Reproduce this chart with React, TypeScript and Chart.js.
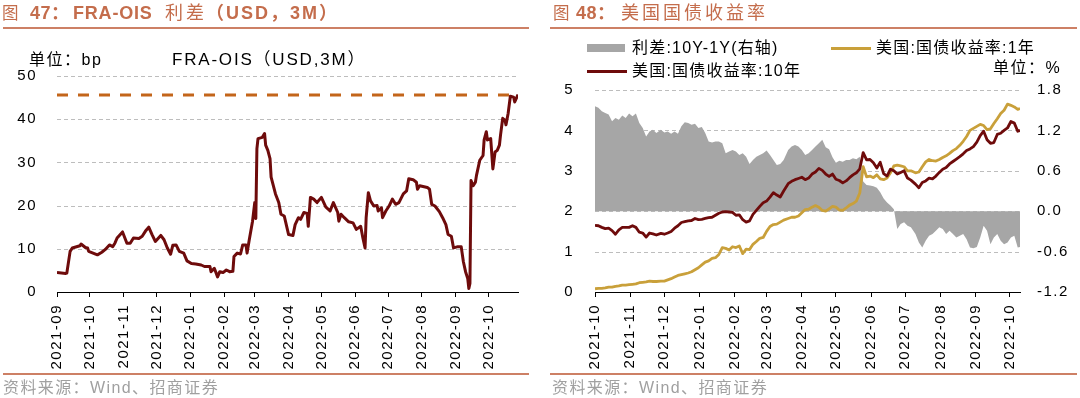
import React, { useEffect, useRef } from "react";
import { Chart, registerables } from "chart.js";

Chart.register(...registerables);

// ---------- Figure 47: FRA-OIS spread (USD, 3M), bp ----------
const fraDates = [
  "2021-09-01", "2021-09-09", "2021-09-10", "2021-09-13", "2021-09-15", "2021-09-22", "2021-09-23", "2021-09-27", "2021-09-29", "2021-09-30",
  "2021-10-04", "2021-10-08", "2021-10-12", "2021-10-15", "2021-10-19", "2021-10-22", "2021-10-24", "2021-10-26", "2021-10-31",
  "2021-11-04", "2021-11-07", "2021-11-10", "2021-11-15", "2021-11-18", "2021-11-21", "2021-11-24", "2021-11-27", "2021-11-30",
  "2021-12-05", "2021-12-08", "2021-12-11", "2021-12-14", "2021-12-16", "2021-12-19", "2021-12-22", "2021-12-26", "2021-12-29",
  "2022-01-02", "2022-01-06", "2022-01-11", "2022-01-14", "2022-01-19", "2022-01-20", "2022-01-23", "2022-01-26", "2022-01-28", "2022-01-31",
  "2022-02-03", "2022-02-06", "2022-02-09", "2022-02-10", "2022-02-13", "2022-02-16", "2022-02-18", "2022-02-21", "2022-02-22", "2022-02-24", "2022-02-27",
  "2022-03-01", "2022-03-02", "2022-03-03", "2022-03-04", "2022-03-08", "2022-03-10", "2022-03-11", "2022-03-13", "2022-03-15", "2022-03-16", "2022-03-20", "2022-03-23", "2022-03-25", "2022-03-28",
  "2022-04-01", "2022-04-05", "2022-04-07", "2022-04-10", "2022-04-12", "2022-04-15", "2022-04-18", "2022-04-19", "2022-04-21", "2022-04-24", "2022-04-27",
  "2022-05-01", "2022-05-05", "2022-05-09", "2022-05-12", "2022-05-16", "2022-05-17", "2022-05-19", "2022-05-22", "2022-05-26", "2022-05-30",
  "2022-06-02", "2022-06-06", "2022-06-08", "2022-06-10", "2022-06-11", "2022-06-13", "2022-06-15", "2022-06-18", "2022-06-21", "2022-06-22", "2022-06-25", "2022-06-26", "2022-06-29",
  "2022-07-02", "2022-07-05", "2022-07-08", "2022-07-11", "2022-07-15", "2022-07-18", "2022-07-20", "2022-07-24", "2022-07-27", "2022-07-28", "2022-07-30",
  "2022-08-06", "2022-08-08", "2022-08-10", "2022-08-13", "2022-08-17", "2022-08-20", "2022-08-23", "2022-08-25", "2022-08-28", "2022-08-30",
  "2022-09-03", "2022-09-06", "2022-09-08", "2022-09-10", "2022-09-12", "2022-09-13", "2022-09-14", "2022-09-15", "2022-09-17", "2022-09-19", "2022-09-20", "2022-09-23", "2022-09-26", "2022-09-27", "2022-09-29", "2022-09-30",
  "2022-10-03", "2022-10-05", "2022-10-07", "2022-10-09", "2022-10-11", "2022-10-12", "2022-10-14", "2022-10-16", "2022-10-17", "2022-10-19", "2022-10-21", "2022-10-24", "2022-10-25", "2022-10-28",
];
const fraValues = [
  4.5, 4.3, 4.4, 9.4, 10.2, 10.7, 11.1, 10.3, 10.2, 9.4,
  9.0, 8.6, 9.2, 9.8, 10.9, 10.5, 11.3, 12.5, 13.9,
  11.3, 11.3, 12.5, 12.4, 12.9, 14.1, 15.0, 13.3, 11.7,
  13.1, 12.1, 10.2, 8.75, 10.8, 10.9, 9.4, 9.0, 7.2,
  6.6, 6.5, 6.25, 5.9, 5.9, 4.7, 5.5, 3.5, 4.7, 4.5,
  5.1, 4.7, 4.8, 8.2, 9.0, 8.8, 10.9, 10.9, 9.0, 12.1, 16.4,
  20.7, 17.0, 33.2, 35.5, 35.8, 36.7, 34.0, 32.8, 30.9, 26.6, 22.7, 20.7, 18.0, 17.6,
  13.3, 13.1, 15.6, 17.2, 16.8, 18.4, 18.2, 15.2, 21.9, 21.5, 20.7,
  21.9, 19.7, 18.75, 20.7, 18.4, 16.4, 18.0, 17.2, 16.25, 16.0,
  14.5, 15.2, 12.5, 10.2, 17.2, 23.0, 21.1, 19.9, 20.0, 18.75, 19.5, 17.2, 18.75,
  19.9, 21.5, 20.3, 20.7, 22.7, 23.4, 26.2, 26.0, 25.4, 23.8, 24.6,
  24.2, 23.8, 20.3, 19.9, 18.6, 17.2, 15.6, 13.3, 12.9, 10.2,
  10.5, 10.5, 7.0, 4.7, 3.1, 0.8, 2.0, 25.8, 24.6, 25.4, 27.0, 30.5, 31.6, 35.2, 37.1, 35.2,
  35.5, 28.5, 32.4, 32.8, 34.0, 36.3, 40.2, 39.8, 38.7, 41.4, 45.3, 45.1, 44.0, 45.7,
];
const fraPeakLevel = 45.6;
const fraTickLabels = [
  "2021-09", "2021-10", "2021-11", "2021-12", "2022-01", "2022-02", "2022-03",
  "2022-04", "2022-05", "2022-06", "2022-07", "2022-08", "2022-09", "2022-10",
];
const fraYMin = 0;
const fraYMax = 50;
const fraYStep = 10;

// ---------- Figure 48: US Treasury yields, % ----------
const ustDates = [
  "2021-10-01", "2021-10-04", "2021-10-07", "2021-10-10", "2021-10-13", "2021-10-16", "2021-10-19", "2021-10-22", "2021-10-25", "2021-10-28",
  "2021-10-31", "2021-11-03", "2021-11-06", "2021-11-09", "2021-11-12", "2021-11-15", "2021-11-18", "2021-11-21", "2021-11-24", "2021-11-28",
  "2021-12-01", "2021-12-04", "2021-12-07", "2021-12-10", "2021-12-13", "2021-12-16", "2021-12-19", "2021-12-22", "2021-12-25", "2021-12-28",
  "2021-12-31", "2022-01-03", "2022-01-06", "2022-01-09", "2022-01-12", "2022-01-15", "2022-01-18", "2022-01-21", "2022-01-24", "2022-01-27",
  "2022-01-30", "2022-02-02", "2022-02-05", "2022-02-08", "2022-02-11", "2022-02-14", "2022-02-17", "2022-02-20", "2022-02-23", "2022-02-26",
  "2022-03-01", "2022-03-04", "2022-03-07", "2022-03-10", "2022-03-13", "2022-03-16", "2022-03-20", "2022-03-23", "2022-03-26", "2022-03-29",
  "2022-04-01", "2022-04-04", "2022-04-07", "2022-04-10", "2022-04-13", "2022-04-16", "2022-04-19", "2022-04-22", "2022-04-25", "2022-04-28",
  "2022-05-01", "2022-05-04", "2022-05-07", "2022-05-10", "2022-05-13", "2022-05-16", "2022-05-19", "2022-05-22", "2022-05-25", "2022-05-28",
  "2022-05-31", "2022-06-03", "2022-06-06", "2022-06-09", "2022-06-12", "2022-06-15", "2022-06-18", "2022-06-21", "2022-06-24", "2022-06-27",
  "2022-06-30", "2022-07-03", "2022-07-06", "2022-07-10", "2022-07-13", "2022-07-16", "2022-07-19", "2022-07-22", "2022-07-25", "2022-07-28",
  "2022-07-31", "2022-08-03", "2022-08-06", "2022-08-09", "2022-08-12", "2022-08-15", "2022-08-18", "2022-08-21", "2022-08-24", "2022-08-27",
  "2022-08-30", "2022-09-02", "2022-09-05", "2022-09-08", "2022-09-11", "2022-09-14", "2022-09-17", "2022-09-20", "2022-09-23", "2022-09-26",
  "2022-09-29", "2022-10-02", "2022-10-05", "2022-10-08", "2022-10-10",
];
const ust10Y = [
  1.65, 1.64, 1.60, 1.57, 1.58, 1.52, 1.43, 1.54, 1.60, 1.60,
  1.60, 1.64, 1.60, 1.48, 1.46, 1.36, 1.46, 1.44, 1.41, 1.45,
  1.43, 1.46, 1.50, 1.58, 1.64, 1.72, 1.74, 1.76, 1.77, 1.82,
  1.79, 1.80, 1.82, 1.84, 1.85, 1.90, 1.95, 1.98, 1.99, 1.98,
  1.97, 1.90, 1.91, 1.79, 1.73, 1.76, 1.92, 2.02, 2.12, 2.21,
  2.25, 2.35, 2.46, 2.40, 2.35, 2.50, 2.68, 2.74, 2.78, 2.81,
  2.84, 2.78, 2.82, 2.92, 2.97, 3.06, 3.01, 2.92, 2.86, 2.92,
  2.79, 2.76, 2.70, 2.75, 2.83, 2.90, 2.95, 3.05, 3.45, 3.27,
  3.28, 3.20, 3.07, 3.21, 2.93, 2.87, 3.04, 3.00, 2.92, 2.96,
  3.00, 2.82, 2.77, 2.67, 2.58, 2.71, 2.75, 2.82, 2.80, 2.87,
  2.96, 3.04, 3.08, 3.17, 3.23, 3.29, 3.35, 3.42, 3.50, 3.54,
  3.60, 3.71, 3.87, 3.98, 3.77, 3.68, 3.70, 3.90, 3.93, 4.00,
  4.06, 4.22, 4.18, 3.98, 4.00,
];
const ust1Y = [
  0.08, 0.09, 0.09, 0.10, 0.12, 0.12, 0.14, 0.15, 0.17, 0.17,
  0.18, 0.19, 0.20, 0.23, 0.24, 0.25, 0.27, 0.26, 0.26, 0.27,
  0.27, 0.30, 0.33, 0.37, 0.41, 0.43, 0.45, 0.47, 0.50, 0.55,
  0.60, 0.67, 0.74, 0.77, 0.83, 0.85, 0.93, 1.10, 1.08, 1.04,
  1.12, 1.10, 1.14, 0.95, 1.06, 1.05, 1.18, 1.25, 1.33, 1.35,
  1.50, 1.62, 1.67, 1.68, 1.73, 1.78, 1.82, 1.85, 1.85, 1.88,
  1.96, 2.04, 2.05, 2.10, 2.14, 2.10, 2.02, 2.00, 2.06, 2.12,
  2.10, 2.03, 2.02, 2.08, 2.15, 2.19, 2.25, 2.45, 3.10, 2.85,
  2.87, 2.83, 2.90, 2.80, 2.78, 2.82, 2.95, 3.12, 3.14, 3.12,
  3.10, 3.00, 3.00, 2.95, 2.97, 3.10, 3.22, 3.28, 3.25, 3.24,
  3.28, 3.33, 3.37, 3.43, 3.50, 3.55, 3.63, 3.73, 3.85, 4.00,
  4.05, 4.10, 4.15, 4.12, 4.02, 4.04, 4.17, 4.29, 4.42, 4.50,
  4.65, 4.62, 4.58, 4.52, 4.54,
];
const ustSpread = [
  1.56, 1.535, 1.485, 1.46, 1.435, 1.335, 1.385, 1.36, 1.42, 1.385,
  1.45, 1.41, 1.45, 1.31, 1.235, 1.11, 1.185, 1.21, 1.16, 1.21,
  1.17, 1.185, 1.15, 1.185, 1.15, 1.26, 1.32, 1.31, 1.285, 1.30,
  1.235, 1.25, 1.16, 1.035, 1.02, 1.035, 1.035, 1.01, 0.86, 0.885,
  0.91, 0.885, 0.835, 0.86, 0.81, 0.70, 0.76, 0.81, 0.835, 0.86,
  0.90, 0.835, 0.76, 0.685, 0.70, 0.76, 0.91, 0.96, 0.985, 0.96,
  0.91, 0.835, 0.86, 0.91, 0.96, 1.01, 1.06, 0.95, 0.92, 0.80,
  0.72, 0.75, 0.735, 0.76, 0.76, 0.785, 0.77, 0.81, 0.44, 0.39,
  0.38, 0.37, 0.35, 0.28, 0.19, 0.13, 0.085, 0.03, -0.265, -0.19,
  -0.165, -0.215, -0.24, -0.34, -0.465, -0.54, -0.44, -0.365, -0.34, -0.29,
  -0.24, -0.265, -0.34, -0.29, -0.34, -0.39, -0.365, -0.34, -0.415, -0.54,
  -0.55, -0.53, -0.39, -0.215, -0.29, -0.49, -0.39, -0.34, -0.44, -0.49,
  -0.465, -0.39, -0.365, -0.54, -0.53,
];
const ustTickLabels = [
  "2021-10", "2021-11", "2021-12", "2022-01", "2022-02", "2022-03", "2022-04",
  "2022-05", "2022-06", "2022-07", "2022-08", "2022-09", "2022-10",
];
const ustYMin = 0;
const ustYMax = 5;
const ustYStep = 1;
const ustY2Min = -1.2;
const ustY2Max = 1.8;
const ustY2Step = 0.6;

// ---------- styling ----------
const FONT = '"Liberation Sans", Arial, "Noto Sans CJK SC", sans-serif';
const TITLE_COLOR = "#C46D4C";
const RULE_COLOR = "#CD8065";
const DARK_RED = "#6E0B0B";
const GOLD = "#C9A03A";
const GREY_AREA = "#A6A6A6";
const PEAK_ORANGE = "#C3651A";
const GRID = "#BDBDBD";

const DAY = 86400000;
const dayOffset = (d: string, base: string) =>
  Math.round((Date.parse(d) - Date.parse(base)) / DAY);

Chart.defaults.font.family = FONT;

const spacingPlugin = {
  id: "letterSpacing",
  beforeLayout(chart: any) {
    chart.ctx.letterSpacing = "1.5px";
  },
  beforeDraw(chart: any) {
    chart.ctx.letterSpacing = "1.5px";
  },
};

// dashed horizontal gridlines at the left y-axis ticks (above zero), under the data
const dashedGridPlugin = {
  id: "dashedGrid",
  beforeDatasetsDraw(chart: any) {
    const { ctx, chartArea } = chart;
    const ys = chart.scales.y;
    ctx.save();
    ctx.strokeStyle = GRID;
    ctx.lineWidth = 1;
    ctx.setLineDash([4, 3]);
    ys.ticks.forEach((t: any) => {
      if (t.value <= ys.min) return;
      const py = Math.round(ys.getPixelForValue(t.value)) + 0.5;
      ctx.beginPath();
      ctx.moveTo(chartArea.left, py);
      ctx.lineTo(chartArea.right, py);
      ctx.stroke();
    });
    ctx.restore();
  },
};

function makeX(base: string, lastDate: string, labels: string[]) {
  const tickVals = labels.map((l) => dayOffset(l + "-01", base));
  return {
    type: "linear",
    min: 0,
    max: dayOffset(lastDate, base),
    afterBuildTicks: (s: any) => {
      s.ticks = tickVals.map((v) => ({ value: v }));
    },
    afterFit: (s: any) => {
      s.height = 106;
    },
    ticks: {
      autoSkip: false,
      maxRotation: 90,
      minRotation: 90,
      padding: 7,
      color: "#000",
      font: { size: 15 },
      callback: (_v: any, i: number) => labels[i],
    },
    grid: {
      display: true,
      drawOnChartArea: false,
      drawTicks: true,
      tickLength: 5,
      color: "#000",
      lineWidth: 1,
    },
    border: { display: true, color: "#000", width: 1 },
  };
}

function FraChart() {
  const ref = useRef<HTMLCanvasElement>(null);
  useEffect(() => {
    const base = fraDates[0];
    const last = fraDates[fraDates.length - 1];
    const pts = fraDates.map((d, i) => ({ x: dayOffset(d, base), y: fraValues[i] }));
    const peak = [
      { x: dayOffset(base, base), y: fraPeakLevel },
      { x: dayOffset(last, base), y: fraPeakLevel },
    ];
    const chart = new Chart(ref.current as HTMLCanvasElement, {
      type: "line",
      data: {
        datasets: [
          {
            data: pts,
            borderColor: DARK_RED,
            borderWidth: 3,
            pointRadius: 0,
            borderJoinStyle: "round",
            order: 0,
          },
          {
            data: peak,
            borderColor: PEAK_ORANGE,
            borderWidth: 3,
            borderDash: [11, 10],
            pointRadius: 0,
            order: 1,
          },
        ],
      },
      options: {
        responsive: false,
        animation: false,
        events: [],
        layout: { padding: { top: 76, right: 22, bottom: 0, left: 0 } },
        plugins: { legend: { display: false }, tooltip: { enabled: false } },
        scales: {
          x: makeX(base, last, fraTickLabels),
          y: {
            min: fraYMin,
            max: fraYMax,
            afterFit: (s: any) => {
              s.width = 57;
            },
            ticks: { stepSize: fraYStep, padding: 20, color: "#000", font: { size: 15 } },
            grid: { display: false, drawTicks: false },
            border: { display: false },
          },
        },
      } as any,
      plugins: [spacingPlugin, dashedGridPlugin],
    } as any);
    return () => chart.destroy();
  }, []);
  return (
    <canvas
      ref={ref}
      width={540}
      height={398}
      style={{ position: "absolute", left: 0, top: 0 }}
    />
  );
}

function UstChart() {
  const ref = useRef<HTMLCanvasElement>(null);
  useEffect(() => {
    const base = ustDates[0];
    const last = ustDates[ustDates.length - 1];
    const xs = ustDates.map((d) => dayOffset(d, base));
    const chart = new Chart(ref.current as HTMLCanvasElement, {
      type: "line",
      data: {
        datasets: [
          {
            label: "美国:国债收益率:10年",
            data: xs.map((x, i) => ({ x, y: ust10Y[i] })),
            borderColor: DARK_RED,
            borderWidth: 2.8,
            pointRadius: 0,
            borderJoinStyle: "round",
            yAxisID: "y",
            order: 0,
          },
          {
            label: "美国:国债收益率:1年",
            data: xs.map((x, i) => ({ x, y: ust1Y[i] })),
            borderColor: GOLD,
            borderWidth: 2.8,
            pointRadius: 0,
            borderJoinStyle: "round",
            yAxisID: "y",
            order: 1,
          },
          {
            label: "利差:10Y-1Y(右轴)",
            data: xs.map((x, i) => ({ x, y: ustSpread[i] })),
            borderColor: "rgba(0,0,0,0)",
            borderWidth: 0,
            backgroundColor: GREY_AREA,
            fill: "origin",
            pointRadius: 0,
            yAxisID: "y2",
            order: 2,
          },
        ],
      },
      options: {
        responsive: false,
        animation: false,
        events: [],
        layout: { padding: { top: 90, right: 0, bottom: 0, left: 0 } },
        plugins: { legend: { display: false }, tooltip: { enabled: false } },
        scales: {
          x: makeX(base, last, ustTickLabels),
          y: {
            position: "left",
            min: ustYMin,
            max: ustYMax,
            afterFit: (s: any) => {
              s.width = 55;
            },
            ticks: { stepSize: ustYStep, padding: 21, color: "#000", font: { size: 15 } },
            grid: { display: false, drawTicks: false },
            border: { display: false },
          },
          y2: {
            position: "right",
            min: ustY2Min,
            max: ustY2Max,
            afterFit: (s: any) => {
              s.width = 60;
            },
            ticks: {
              stepSize: ustY2Step,
              padding: 17,
              color: "#000",
              font: { size: 15 },
              callback: (v: any) => (Math.abs(v) < 1e-9 ? "0.0" : Number(v).toFixed(1)),
            },
            grid: { display: false, drawTicks: false },
            border: { display: false },
          },
        },
      } as any,
      plugins: [spacingPlugin, dashedGridPlugin],
    } as any);
    return () => chart.destroy();
  }, []);
  return (
    <canvas
      ref={ref}
      width={540}
      height={398}
      style={{ position: "absolute", left: 540, top: 0 }}
    />
  );
}

function Txt(props: {
  x: number;
  cy: number;
  size?: number;
  color?: string;
  ls?: number;
  weight?: number;
  children: React.ReactNode;
}) {
  const { x, cy, size = 16, color = "#000", ls = 1, weight = 400, children } = props;
  return (
    <div
      style={{
        position: "absolute",
        left: x,
        top: cy - 12,
        height: 24,
        lineHeight: "24px",
        fontSize: size,
        fontWeight: weight,
        color,
        letterSpacing: ls,
        whiteSpace: "nowrap",
        fontFamily: FONT,
        pointerEvents: "none",
      }}
    >
      {children}
    </div>
  );
}

function Rule(props: { x: number; y: number; w: number; h?: number; color: string }) {
  const { x, y, w, h = 2, color } = props;
  return (
    <div
      style={{ position: "absolute", left: x, top: y, width: w, height: h, background: color }}
    />
  );
}

export default function App() {
  return (
    <div
      style={{
        position: "absolute",
        left: 0,
        top: 0,
        width: 1080,
        height: 398,
        background: "#fff",
        overflow: "hidden",
        fontFamily: FONT,
      }}
    >
      <FraChart />
      <UstChart />

      {/* Left panel title */}
      <Txt x={2} cy={12.5} size={16.5} color={TITLE_COLOR}>图</Txt>
      <Txt x={30} cy={12.5} size={18} color={TITLE_COLOR} weight={700} ls={0.5}>47：</Txt>
      <Txt x={73} cy={12.5} size={18} color={TITLE_COLOR} weight={700} ls={0.8}>FRA-OIS</Txt>
      <Txt x={165} cy={12.5} size={18} color={TITLE_COLOR} ls={3}>利差</Txt>
      <Txt x={206} cy={12.5} size={18} color={TITLE_COLOR} weight={700} ls={2}>（USD，3M）</Txt>
      <Rule x={3} y={27} w={526} color={RULE_COLOR} />

      <Txt x={29} cy={60} size={16} ls={1.5}>
        单位：bp
      </Txt>
      <Txt x={172} cy={60} size={17} ls={1.8}>
        FRA-OIS（USD,3M）
      </Txt>
      <Rule x={3} y={373} w={526} color={RULE_COLOR} />
      <Txt x={3} cy={388} size={16} color="#A0A0A0" ls={1.4}>
        资料来源：Wind、招商证券
      </Txt>

      {/* Right panel title */}
      <Txt x={553} cy={12.5} size={16.5} color={TITLE_COLOR}>图</Txt>
      <Txt x={576} cy={12.5} size={18} color={TITLE_COLOR} weight={700} ls={0.5}>48：</Txt>
      <Txt x={621} cy={12.5} size={18} color={TITLE_COLOR} ls={3}>美国国债收益率</Txt>
      <Rule x={550} y={27} w={527} color={RULE_COLOR} />

      {/* Legend */}
      <Rule x={587} y={44} w={38} h={8} color={GREY_AREA} />
      <Txt x={632} cy={48} size={16} ls={1.2}>
        利差:10Y-1Y(右轴)
      </Txt>
      <Rule x={831} y={46.5} w={40} h={3} color={GOLD} />
      <Txt x={876} cy={48} size={16} ls={1.2}>
        美国:国债收益率:1年
      </Txt>
      <Rule x={587} y={70} w={40} h={3} color={DARK_RED} />
      <Txt x={632} cy={71} size={16} ls={1.2}>
        美国:国债收益率:10年
      </Txt>
      <Txt x={993} cy={68} size={16} ls={1.5}>
        单位：%
      </Txt>

      <Rule x={550} y={373} w={527} color={RULE_COLOR} />
      <Txt x={552} cy={388} size={16} color="#A0A0A0" ls={1.4}>
        资料来源：Wind、招商证券
      </Txt>
    </div>
  );
}
